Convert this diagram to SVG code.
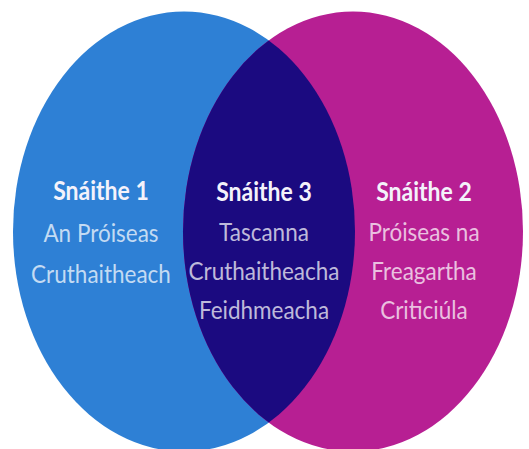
<svg xmlns="http://www.w3.org/2000/svg" width="529" height="449" viewBox="0 0 529 449">
<style>
.t{font-family:Lato,"Open Sans",sans-serif;font-weight:700;font-size:23px;fill:#f4f2fb;text-anchor:middle}
.b{font-family:Lato,"Open Sans",sans-serif;font-weight:400;font-size:22.5px;fill:#ffffff;fill-opacity:0.72;text-anchor:middle}
</style>
<defs>
<clipPath id="cl"><ellipse cx="184" cy="231.5" rx="171" ry="220"/></clipPath>
</defs>
<rect width="529" height="449" fill="#ffffff"/>
<g id="strand1"><ellipse cx="184" cy="231.5" rx="171" ry="220" fill="#2e80d5"/></g>
<g id="strand2"><ellipse cx="353" cy="231.5" rx="170" ry="220" fill="#b71f93"/></g>
<g id="strand3"><ellipse cx="353" cy="231.5" rx="170" ry="220" fill="#1b0a80" clip-path="url(#cl)"/></g>
<g id="labels1">
<text class="t" x="101" y="200" transform="translate(0,-30) scale(1,1.15)">Snáithe 1</text>
<text class="b" x="101" y="242" transform="translate(0,-36.3) scale(1,1.15)">An Próiseas</text>
<text class="b" x="101" y="283" transform="translate(0,-42.45) scale(1,1.15)">Cruthaitheach</text>
</g>
<g id="labels3">
<text class="t" x="264" y="201" transform="translate(0,-30.15) scale(1,1.15)">Snáithe 3</text>
<text class="b" x="264" y="241" transform="translate(0,-36.15) scale(1,1.15)">Tascanna</text>
<text class="b" x="264" y="280" transform="translate(0,-42) scale(1,1.15)">Cruthaitheacha</text>
<text class="b" x="264" y="319" transform="translate(0,-47.85) scale(1,1.15)">Feidhmeacha</text>
</g>
<g id="labels2">
<text class="t" x="424" y="201" transform="translate(0,-30.15) scale(1,1.15)">Snáithe 2</text>
<text class="b" x="424" y="241" transform="translate(0,-36.15) scale(1,1.15)">Próiseas na</text>
<text class="b" x="424" y="280" transform="translate(0,-42) scale(1,1.15)">Freagartha</text>
<text class="b" x="424" y="319" transform="translate(0,-47.85) scale(1,1.15)">Criticiúla</text>
</g>
</svg>
